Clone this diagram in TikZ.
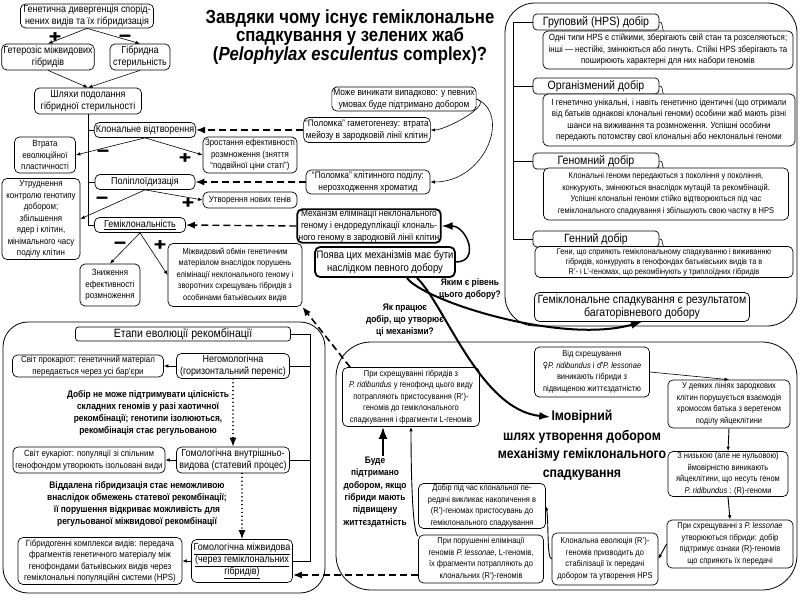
\documentclass[tikz,border=0pt]{standalone}
\usepackage{fontspec}
\setmainfont{Liberation Sans}[FakeStretch=0.88]
\newfontfamily\symf{DejaVu Sans}[FakeStretch=0.85]
\newfontfamily\sgnf{Liberation Sans}[FakeStretch=1.3,FakeBold=2.5]
\usetikzlibrary{positioning,arrows.meta,calc}

\newcommand\fsm{\fontsize{9}{11.5}\selectfont}
\newcommand\fsb{\fontsize{8.5}{11.5}\selectfont}
\newcommand\fsx{\fontsize{8.3}{10}\selectfont}
\newcommand\fsy{\fontsize{9.5}{11.8}\selectfont}
\newcommand\fmd{\fontsize{10.2}{12}\selectfont}
\newcommand\fbg{\fontsize{10.8}{13}\selectfont}
\newcommand\fhd{\fontsize{12}{13.5}\selectfont}
\newcommand\fnb{\fontsize{9.5}{12.3}\selectfont\bfseries}
\newcommand\fti{\fontsize{14}{18.5}\selectfont\bfseries}
\newcommand\fsg{\sgnf\fontsize{16}{16}\selectfont\bfseries}
\newcommand\fttl{\fontsize{19}{17.5}\selectfont\bfseries}

\begin{document}
\begin{tikzpicture}[x=1pt,y=-1pt,
  box/.style={draw,fill=white,rounded corners=5pt,align=center,inner xsep=1.5pt,
              inner ysep=0.5pt,line width=0.7pt,font=\fsm},
  bx/.style 2 args={box,minimum width=#1,minimum height=#2},
  hd/.style={draw,fill=white,rounded corners=4pt,font=\fhd,minimum width=126,
             minimum height=16,inner sep=0pt,line width=0.7pt},
  strong/.style={line width=1.8pt},
  sgn/.style={font=\fsg,inner sep=0pt},
  note/.style={font=\fnb,align=center,inner sep=1pt},
  frame/.style={line width=0.8pt},
  arr/.style={-{Latex[length=4.5pt,width=3.5pt]},line width=0.6pt},
  darr/.style={-{Latex[length=9pt,width=7pt]},line width=1.4pt,dash pattern=on 7pt off 4pt},
  dotarr/.style={-{Latex[length=9pt,width=7pt]},line width=1.4pt,dash pattern=on 0.1pt off 3.8pt,line cap=round},
  tarr/.style={-{Latex[length=11pt,width=8pt]},line width=2pt}]
\useasboundingbox (0,0) rectangle (800,600);
\fill[white] (0,0) rectangle (800,600);

\node[font=\fttl,align=center] (title) at (350,37) {Завдяки чому існує геміклональне\\спадкування у зелених жаб\\(\textit{Pelophylax esculentus} complex)?};

\node[bx={133}{24},font=\fmd] (div) at (87,16) {Генетична дивергенція спорід-\\нених видів та їх гібридизація};
\node[bx={91}{26},font=\fmd] (het) at (48,57) {Гетерозіс міжвидових\\гібридів};
\node[bx={60}{26},font=\fmd] (ster) at (140,57) {Гібридна\\стерильність};
\node[bx={107}{26},font=\fmd] (ways) at (88,101) {Шляхи подолання\\гібридної стерильності};
\node[bx={101}{15},font=\fmd] (clon) at (145,130) {Клональне відтворення};
\node[bx={100}{15},font=\fmd] (poly) at (145,182) {Поліплоїдизація};
\node[bx={91}{15},font=\fmd] (hemi) at (140,225) {\underline{Геміклональність}};
\node[bx={61}{36}] (loss) at (45,155) {Втрата\\еволюційної\\пластичності};
\node[bx={94}{36}] (eff) at (250,155) {Зростання ефективності\\розмноження (зняття\\``подвійної ціни статі'')};
\node[bx={78}{81}] (ctrl) at (41,219) {Утруднення\\контролю генотипу\\добором;\\збільшення\\ядер і клітин,\\мінімального часу\\поділу клітин};
\node[bx={94}{16}] (genes) at (250,200) {Утворення нових генів};
\node[bx={60}{42}] (lowr) at (110,285) {Зниження\\ефективності\\розмноження};
\node[bx={134}{63},font=\fsb] (exch) at (235,275) {Міжвидовий обмін генетичним\\матеріалом внаслідок порушень\\елімінації неклонального геному і\\зворотних схрещувань гібридів з\\особинами батьківських видів};

\node[sgn] (pa) at (55,37) {+};
\node[sgn] (ma) at (125,38) {−};
\node[sgn] (mb) at (103,153) {−};
\node[sgn] (pb) at (185,158) {+};
\node[sgn] (mc) at (102,200) {−};
\node[sgn] (pc) at (188,203) {+};
\node[sgn] (md) at (120,245) {−};
\node[sgn] (pd) at (160,245) {+};

\node[bx={139}{24},font=\fsy] (rand) at (404,99) {Може виникати випадково: у певних\\умовах буде підтримано добором};
\node[bx={125}{25},font=\fsy] (gam) at (367,130) {``Поломка'' гаметогенезу: втрата\\мейозу в зародковій лінії клітин};
\node[bx={124}{24},font=\fsy] (brk) at (368,182) {``Поломка'' клітинного поділу:\\нерозходження хроматид};
\node[bx={143}{33},strong,font=\fsy] (mech) at (369,226) {Механізм елімінації неклонального\\геному і ендоредуплікації клональ-\\ного геному в зародковій лінії клітин};
\node[bx={135}{30},strong,font=\fbg] (sel) at (385,262) {Поява цих механізмів має бути\\наслідком певного добору};
\node[note] (q1) at (470,289) {Яким є рівень\\цього добору?};
\node[note] (q2) at (405,320) {Як працює\\добір, що утворює\\ці механізми?};

\draw[frame,rounded corners=30pt] (505,3) rectangle (797,326);
\coordinate (sp) at (513,0);
\node[hd] (hg) at (596,22) {Груповий (HPS) добір};
\node[bx={250}{38}] (dg) at (668,50) {Одні типи HPS є стійкими, зберігають свій стан та розселяються;\\інші — нестійкі, змінюються або гинуть. Стійкі HPS зберігають та\\поширюють характерні для них набори геномів};
\node[hd] (ho) at (596,86) {Організмений добір};
\node[bx={252}{52}] (do) at (669,120) {І генетично унікальні, і навіть генетично ідентичні (що отримали\\від батьків однакові клональні геноми) особини жаб мають різні\\шанси на виживання та розмноження. Успішні особини\\передають потомству свої клональні або неклональні геноми};
\node[hd] (hn) at (596,161) {Геномний добір};
\node[bx={245}{52},font=\fsb] (dn) at (666,194) {Клональні геноми передаються з покоління у покоління,\\конкурують, змінюються внаслідок мутацій та рекомбінацій.\\Успішні клональні геноми стійко відтворюються під час\\геміклонального спадкування і збільшують свою частку в HPS};
\node[hd] (hgn) at (596,239) {Генний добір};
\node[bx={258}{31},font=\fsx] (dgn) at (664,262) {Гени, що сприяють геміклональному спадкуванню і виживанню\\гібридів, конкурують в генофондах батьківських видів та в\\R'- і L'-геномах, що рекомбінують у триплоїдних гібридів};
\node[bx={215}{29},font=\fhd] (res) at (642,307) {Геміклональне спадкування є результатом\\багаторівневого добору};

\draw[frame,rounded corners=25pt] (3,322) rectangle (325,593);
\coordinate (sq) at (310,0);
\node[bx={215}{14},font=\fhd,rounded corners=3pt] (eta) at (183,334) {Етапи еволюції рекомбінації};
\node[bx={113}{25},font=\fmd] (s1) at (233,366) {Негомологічна\\(горизонтальний переніс)};
\node[bx={151}{22}] (p1) at (88,366) {Світ прокаріот: генетичний матеріал\\передається через усі бар'єри};
\node[note] (t1) at (148,413) {Добір не може підтримувати цілісність\\складних геномів у разі хаотичної\\рекомбінації; генотипи ізолюються,\\рекомбінація стає регульованою};
\node[bx={113}{26},font=\fmd] (s2) at (233,460) {Гомологічна внутрішньо-\\видова (статевий процес)};
\node[bx={152}{26}] (p2) at (89,460) {Світ еукаріот: популяції зі спільним\\генофондом утворюють ізольовані види};
\node[note] (t2) at (137,504) {Віддалена гібридизація стає неможливою\\внаслідок обмежень статевої рекомбінації;\\її порушення відкриває можливість для\\регульованої міжвидової рекомбінації};
\node[bx={101}{43},font=\fmd] (s3) at (242,561) {\underline{Гомологічна міжвидова}\\\underline{(через геміклональних}\\\underline{гібридів)}};
\node[bx={164}{47}] (p3) at (100,561) {Гібридогенні комплекси видів: передача\\фрагментів генетичного матеріалу між\\генофондами батьківських видів через\\геміклональні популяційні системи (HPS)};

\draw[frame,rounded corners=35pt] (336,342) rectangle (797,590);
\node[bx={115}{50},font=\fsb] (b1) at (592,372) {Від схрещування\\{\symf ♀}\textit{P. ridibundus} і {\symf ♂}\textit{P. lessonae}\\виникають гібриди з\\підвищеною життєздатністю};
\node[bx={122}{48},font=\fsb] (b2) at (729,404) {У деяких лініях зародкових\\клітин порушується взаємодія\\хромосом батька з веретеном\\поділу яйцеклітини};
\node[bx={120}{45},font=\fsb] (b3) at (728,474) {З низькою (але не нульовою)\\ймовірністю виникають\\яйцеклітини, що несуть геном\\\textit{P. ridibundus} : (R)-геноми};
\node[bx={126}{48},font=\fsb] (b4) at (730,544) {При схрещуванні з \textit{P. lessonae}\\утворюються гібриди: добір\\підтримує ознаки (R)-геномів\\що сприяють їх передачі};
\node[bx={106}{52},font=\fsb] (b5) at (605,559) {Клональна еволюція (R')-\\геномів призводить до\\стабілізації їх передачі\\добором та утворення HPS};
\node[bx={127}{45},font=\fsb] (b6) at (482,506) {Добір під час клональної пе-\\редачі викликає накопичення в\\(R')-геномах пристосувань до\\геміклонального спадкування};
\node[bx={125}{48},font=\fsb] (b7) at (481,559) {При порушенні елімінації\\геномів \textit{P. lessonae}, L-геномів,\\їх фрагменти потрапляють до\\клональних (R')-геномів};
\node[bx={137}{59},font=\fsb] (b8) at (411,397) {При схрещуванні гібридів з\\\textit{P. ridibundus} у генофонд цього виду\\потрапляють пристосування (R')-\\геномів до геміклонального\\спадкування і фрагменти L-геномів};
\node[note] (tb) at (375,492) {Буде\\підтримано\\добором, якщо\\гібриди мають\\підвищену\\життєздатність};
\node[note,font=\fti] (ti1) at (582,417) {Імовірний};
\node[note,font=\fti] (ti2) at (582,455) {шлях утворення добором\\механізму геміклонального\\спадкування};

\draw[arr] (div.south) -- (het.north);
\draw[arr] (div.south) -- (ster.north);
\draw[arr] (het.south) -- (ways.north);
\draw[arr] (ster.south) -- (ways.north);
\draw[line width=0.6pt] (ways.south) -- (ways.south |- hemi.west) -- (hemi.west);
\draw[line width=0.6pt] (ways.south |- clon.west) -- (clon.west);
\draw[line width=0.6pt] (ways.south |- poly.west) -- (poly.west);
\draw[arr] (clon.south) -- (loss.east);
\draw[arr] (clon.south) -- (eff.west);
\draw[arr] (poly.south) -- (ctrl.east);
\draw[arr] (poly.south) -- (genes.west);
\draw[arr] (hemi.south) -- (lowr.north);
\draw[arr] (hemi.south) -- (exch.west);
\draw[darr] (gam.west) -- (clon.east);
\draw[darr] (brk.west) -- (poly.east);
\draw[darr] (mech.west) -- (hemi.east);
\draw[arr] (rand.east) .. controls +(18,5) and +(15,0) .. (gam.east);
\draw[arr] (rand.east) .. controls +(35,15) and +(55,0) .. (brk.east);
\draw[tarr,line width=1.5pt] (sel.east) .. controls +(25,0) and +(25,0) .. (mech.east);
\draw[tarr] ([xshift=22pt]sel.south) .. controls (422,300) and (560,345) .. (res.south);
\draw[tarr] ([xshift=32pt]sel.south) .. controls (445,305) and (480,410) .. (ti1.west);

\draw[line width=0.6pt] (hg.west) -- (hg.west -| sp) -- (hgn.west -| sp) -- (hgn.west);
\draw[line width=0.6pt] (ho.west) -- (ho.west -| sp);
\draw[line width=0.6pt] (hn.west) -- (hn.west -| sp);
\draw[line width=0.6pt] (hg.east) .. controls +(4,0) and +(-2,-4) .. ([xshift=4pt]hg.east |- dg.north);
\draw[line width=0.6pt] (ho.east) .. controls +(4,0) and +(-2,-4) .. ([xshift=4pt]ho.east |- do.north);
\draw[line width=0.6pt] (hn.east) .. controls +(4,0) and +(-2,-4) .. ([xshift=4pt]hn.east |- dn.north);
\draw[line width=0.6pt] (hgn.east) .. controls +(4,0) and +(-2,-4) .. ([xshift=4pt]hgn.east |- dgn.north);

\draw[line width=0.6pt] (eta.east) -- (eta.east -| sq) -- (s3.east -| sq) -- (s3.east);
\draw[line width=0.6pt] (s1.east) -- (s1.east -| sq);
\draw[line width=0.6pt] (s2.east) -- (s2.east -| sq);
\draw[arr] (s1.west) -- (p1.east);
\draw[arr] (s2.west) -- (p2.east);
\draw[arr] (s3.west) -- (p3.east);
\draw[dotarr] (s1.south) -- (s2.north);
\draw[dotarr] (s2.south -| s3.north) -- (s3.north);

\draw[arr] (b1.east) -- (b2.north);
\draw[arr,line width=0.9pt] (b2.south) -- (b3.north);
\draw[arr,line width=0.9pt] (b3.south) -- (b4.north);
\draw[arr,line width=0.9pt] (b4.west) -- (b5.east);
\draw[arr,line width=0.9pt] (b5.west) .. controls +(-5,0) and +(3,15) .. (b6.east);
\draw[arr,line width=0.9pt] (b7.160) .. controls +(-6,-2) and +(0,40) .. (b8.south);
\draw[tarr,-{Latex[length=12pt,width=9pt]}] ([xshift=8pt]tb.north) -- ([xshift=-28pt]b8.south);
\draw[darr,line width=1.6pt] ([xshift=8pt]b8.north west) -- (exch.south east);
\draw[darr,line width=1.6pt] ([yshift=-16pt]b7.west) -- ([yshift=-14pt]s3.east);
\end{tikzpicture}
\end{document}
